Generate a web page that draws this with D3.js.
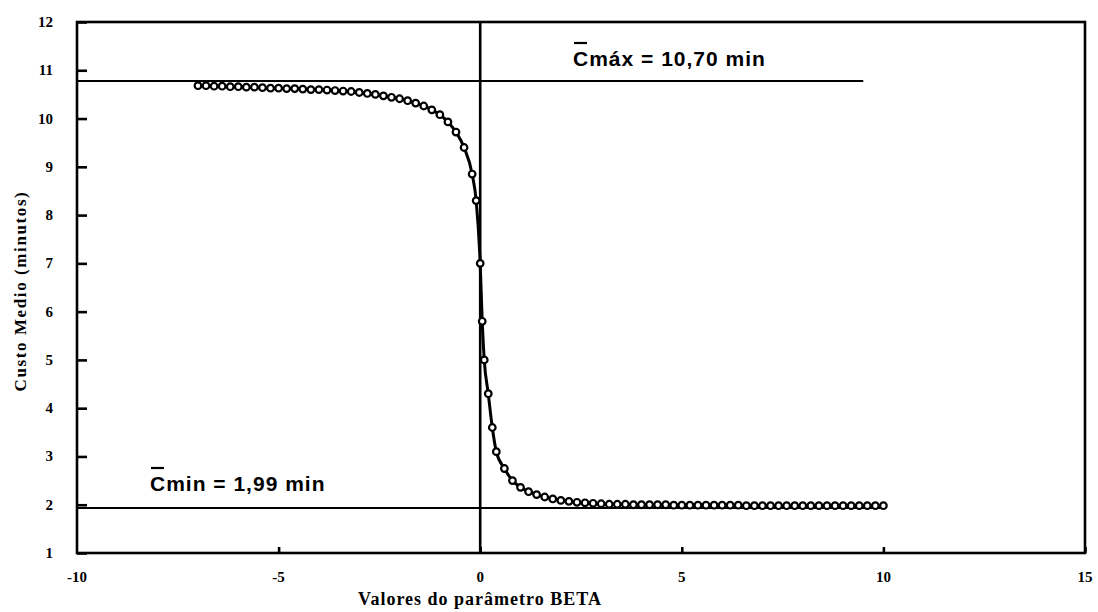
<!DOCTYPE html>
<html><head><meta charset="utf-8">
<script src="https://cdn.jsdelivr.net/npm/d3@7"></script>
<style>body{margin:0;background:#fff}svg{display:block}</style>
</head><body>
<svg id="c" width="1098" height="612"></svg>
<script>
// Data
const betaValues = [-7.0,-6.8,-6.6,-6.4,-6.2,-6.0,-5.8,-5.6,-5.4,-5.2,-5.0,-4.8,-4.6,-4.4,-4.2,-4.0,-3.8,-3.6,-3.4,-3.2,-3.0,-2.8,-2.6,-2.4,-2.2,-2.0,-1.8,-1.6,-1.4,-1.2,-1.0,-0.8,-0.6,-0.4,-0.2,-0.1,0.0,0.05,0.1,0.2,0.3,0.4,0.6,0.8,1.0,1.2,1.4,1.6,1.8,2.0,2.2,2.4,2.6,2.8,3.0,3.2,3.4,3.6,3.8,4.0,4.2,4.4,4.6,4.8,5.0,5.2,5.4,5.6,5.8,6.0,6.2,6.4,6.6,6.8,7.0,7.2,7.4,7.6,7.8,8.0,8.2,8.4,8.6,8.8,9.0,9.2,9.4,9.6,9.8,10.0];
const custoMedio = [10.68,10.68,10.67,10.67,10.66,10.66,10.65,10.65,10.64,10.63,10.63,10.62,10.62,10.61,10.60,10.60,10.59,10.58,10.57,10.56,10.54,10.52,10.50,10.47,10.44,10.41,10.37,10.32,10.26,10.18,10.08,9.93,9.72,9.40,8.85,8.30,7.00,5.80,5.00,4.30,3.60,3.10,2.75,2.50,2.36,2.27,2.21,2.16,2.12,2.09,2.07,2.05,2.04,2.03,2.02,2.01,2.01,2.01,2.00,2.00,2.00,2.00,2.00,1.99,1.99,1.99,1.99,1.99,1.99,1.99,1.99,1.99,1.98,1.98,1.98,1.98,1.98,1.98,1.98,1.98,1.98,1.98,1.98,1.98,1.98,1.98,1.98,1.98,1.98,1.98];
const xTicks = [-10,-5,0,5,10,15];
const yTicks = [1,2,3,4,5,6,7,8,9,10,11,12];
const cMaxLine = {value:10.78, from:-10, to:9.5, label:"máx = 10,70 min"};
const cMinLine = {value:1.93, from:-10, to:10, label:"min = 1,99 min"};

const svg = d3.select("#c");
const x = d3.scaleLinear().domain([-10,15]).range([77,1085]);
const y = d3.scaleLinear().domain([1,12]).range([553,22]);
const serif = "'Liberation Serif','Times New Roman',serif";
const sans = "'Liberation Sans',Arial,sans-serif";

// frame
svg.append("rect").attr("x",x(-10)).attr("y",y(12)).attr("width",x(15)-x(-10)).attr("height",y(1)-y(12))
  .attr("fill","none").attr("stroke","#000").attr("stroke-width",2.6);

// y axis ticks (inward)
const yAxis = d3.axisRight(y).tickValues(yTicks).tickSize(10).tickFormat("");
const ga = svg.append("g").attr("transform",`translate(${x(-10)},0)`).call(yAxis);
ga.select(".domain").remove();
ga.selectAll("line").attr("stroke","#000").attr("stroke-width",2.6);
svg.append("g").selectAll("text").data(yTicks).join("text")
  .attr("x",53).attr("y",d=>y(d)+5).attr("text-anchor","end")
  .attr("font-family",serif).attr("font-weight","bold").attr("font-size",15).text(d=>d);

// x axis ticks (inward)
const xAxis = d3.axisTop(x).tickValues(xTicks.filter(d=>d>-10)).tickSize(6).tickFormat("");
const gx = svg.append("g").attr("transform",`translate(0,${y(1)})`).call(xAxis);
gx.select(".domain").remove();
gx.selectAll("line").attr("stroke","#000").attr("stroke-width",2.6);
svg.append("g").selectAll("text").data(xTicks).join("text")
  .attr("x",d=>x(d)).attr("y",582).attr("text-anchor","middle")
  .attr("font-family",serif).attr("font-weight","bold").attr("font-size",15).text(d=>d);

// vertical line at beta = 0
svg.append("line").attr("x1",x(0)).attr("x2",x(0)).attr("y1",y(12)).attr("y2",y(1))
  .attr("stroke","#000").attr("stroke-width",2.6);

// reference lines
[cMaxLine,cMinLine].forEach(l=>{
  svg.append("line").attr("x1",x(l.from)).attr("x2",x(l.to)).attr("y1",y(l.value)).attr("y2",y(l.value))
    .attr("stroke","#000").attr("stroke-width",2);
});

// annotations
function ann(tx,ty,rest){
  const t = svg.append("text").attr("x",tx).attr("y",ty).attr("font-family",sans)
    .attr("font-weight","bold").attr("font-size",21).attr("letter-spacing",1);
  t.append("tspan").text("C");
  t.append("tspan").text(rest);
  svg.append("line").attr("x1",tx+1).attr("x2",tx+14).attr("y1",ty-23).attr("y2",ty-23)
    .attr("stroke","#000").attr("stroke-width",2.2);
}
ann(573,66,cMaxLine.label);
ann(150,491,cMinLine.label);

// data
const pts = betaValues.map((b,i)=>[b,custoMedio[i]]);
svg.append("path").datum(pts)
  .attr("d",d3.line().x(d=>x(d[0])).y(d=>y(d[1])).curve(d3.curveMonotoneX))
  .attr("fill","none").attr("stroke","#000").attr("stroke-width",3);
svg.append("g").selectAll("circle").data(pts).join("circle")
  .attr("cx",d=>x(d[0])).attr("cy",d=>y(d[1])).attr("r",3.3)
  .attr("fill","#fff").attr("stroke","#000").attr("stroke-width",2.2);

// axis titles
svg.append("text").attr("x",480).attr("y",605).attr("text-anchor","middle")
  .attr("font-family",serif).attr("font-weight","bold").attr("font-size",18).attr("letter-spacing",1)
  .text("Valores do parâmetro BETA");
svg.append("text").attr("transform","translate(26,291) rotate(-90)").attr("text-anchor","middle")
  .attr("font-family",serif).attr("font-weight","bold").attr("font-size",17).attr("letter-spacing",1.6)
  .text("Custo Medio (minutos)");
</script>
</body></html>
